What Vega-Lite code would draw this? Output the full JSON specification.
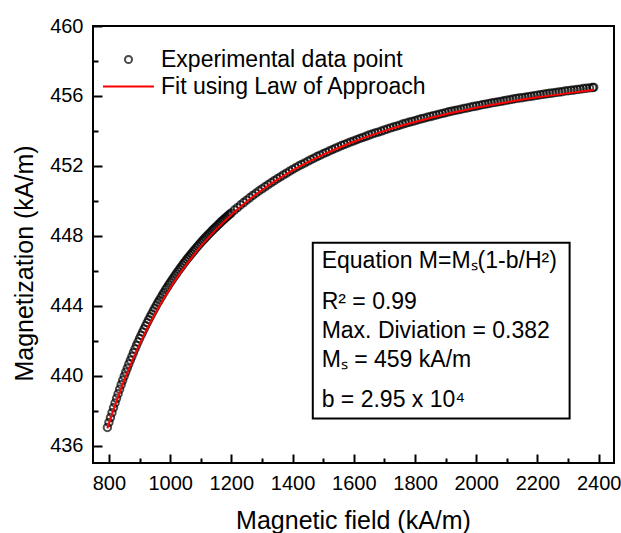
{
"$schema": "https://vega.github.io/schema/vega-lite/v6.json",
"width": 521, "height": 437,
"autosize": {"type": "none"},
"padding": {"left": 93, "top": 26, "right": 7, "bottom": 70},
"background": "white",
"config": {"font": "Liberation Sans", "view": {"stroke": "black", "strokeWidth": 2},
  "axis": {"grid": false, "domain": false, "tickColor": "black", "tickWidth": 2, "labelColor": "black", "labelFontSize": 20, "titleFontSize": 25, "titleFontWeight": "normal", "titleColor": "black", "labelFlush": false, "labelOverlap": false},
  "legend": {"labelFont": "Liberation Sans", "labelFontSize": 23, "labelColor": "black", "padding": 0, "offset": 0, "labelLimit": 400}},
"datasets": {
"exp": [
{"H":795,"M":437.03},{"H":800,"M":437.32},{"H":805,"M":437.60},{"H":810,"M":437.88},{"H":815,"M":438.16},{"H":820,"M":438.43},{"H":825,"M":438.70},{"H":830,"M":438.96},{"H":835,"M":439.22},{"H":840,"M":439.48},{"H":845,"M":439.73},{"H":850,"M":439.97},{"H":855,"M":440.20},{"H":860,"M":440.43},{"H":865,"M":440.66},{"H":870,"M":440.88},{"H":875,"M":441.09},{"H":880,"M":441.31},{"H":885,"M":441.52},{"H":890,"M":441.73},{"H":895,"M":441.92},{"H":900,"M":442.12},{"H":905,"M":442.31},{"H":910,"M":442.49},{"H":915,"M":442.67},{"H":920,"M":442.85},{"H":925,"M":443.03},{"H":930,"M":443.20},{"H":935,"M":443.37},{"H":940,"M":443.53},{"H":945,"M":443.70},{"H":950,"M":443.86},{"H":955,"M":444.02},{"H":960,"M":444.18},{"H":965,"M":444.32},{"H":970,"M":444.47},{"H":975,"M":444.62},{"H":980,"M":444.76},{"H":985,"M":444.91},{"H":990,"M":445.04},{"H":995,"M":445.18},{"H":1000,"M":445.31},{"H":1005,"M":445.44},{"H":1010,"M":445.57},{"H":1015,"M":445.70},{"H":1020,"M":445.82},{"H":1025,"M":445.95},{"H":1030,"M":446.07},{"H":1035,"M":446.19},{"H":1040,"M":446.31},{"H":1045,"M":446.43},{"H":1050,"M":446.54},{"H":1055,"M":446.66},{"H":1060,"M":446.76},{"H":1065,"M":446.88},{"H":1070,"M":446.98},{"H":1075,"M":447.09},{"H":1080,"M":447.19},{"H":1085,"M":447.30},{"H":1090,"M":447.40},{"H":1095,"M":447.50},{"H":1100,"M":447.60},{"H":1105,"M":447.70},{"H":1110,"M":447.79},{"H":1115,"M":447.89},{"H":1120,"M":447.98},{"H":1125,"M":448.08},{"H":1130,"M":448.16},{"H":1135,"M":448.26},{"H":1140,"M":448.34},{"H":1145,"M":448.43},{"H":1150,"M":448.51},{"H":1155,"M":448.60},{"H":1160,"M":448.68},{"H":1165,"M":448.77},{"H":1170,"M":448.85},{"H":1175,"M":448.93},{"H":1180,"M":449.01},{"H":1185,"M":449.09},{"H":1190,"M":449.16},{"H":1195,"M":449.24},{"H":1200,"M":449.31},
{"H":1210,"M":449.47},{"H":1220,"M":449.61},{"H":1230,"M":449.76},{"H":1240,"M":449.90},{"H":1250,"M":450.04},{"H":1260,"M":450.17},{"H":1270,"M":450.31},{"H":1280,"M":450.43},{"H":1290,"M":450.56},{"H":1300,"M":450.68},{"H":1310,"M":450.80},{"H":1320,"M":450.92},{"H":1330,"M":451.03},{"H":1340,"M":451.15},{"H":1350,"M":451.26},{"H":1360,"M":451.37},{"H":1370,"M":451.48},{"H":1380,"M":451.58},{"H":1390,"M":451.69},{"H":1400,"M":451.79},{"H":1410,"M":451.89},{"H":1420,"M":451.99},{"H":1430,"M":452.08},{"H":1440,"M":452.17},{"H":1450,"M":452.26},{"H":1460,"M":452.35},{"H":1470,"M":452.44},{"H":1480,"M":452.53},{"H":1490,"M":452.61},{"H":1500,"M":452.69},{"H":1510,"M":452.77},{"H":1520,"M":452.85},{"H":1530,"M":452.93},{"H":1540,"M":453.01},{"H":1550,"M":453.08},{"H":1560,"M":453.16},{"H":1570,"M":453.23},{"H":1580,"M":453.30},{"H":1590,"M":453.37},{"H":1600,"M":453.43},{"H":1610,"M":453.50},{"H":1620,"M":453.57},{"H":1630,"M":453.63},{"H":1640,"M":453.69},{"H":1650,"M":453.76},{"H":1660,"M":453.82},{"H":1670,"M":453.88},{"H":1680,"M":453.93},{"H":1690,"M":453.99},{"H":1700,"M":454.05},{"H":1710,"M":454.11},{"H":1720,"M":454.17},{"H":1730,"M":454.22},{"H":1740,"M":454.27},{"H":1750,"M":454.33},{"H":1760,"M":454.39},{"H":1770,"M":454.44},{"H":1780,"M":454.49},{"H":1790,"M":454.54},{"H":1800,"M":454.58},{"H":1810,"M":454.64},{"H":1820,"M":454.69},{"H":1830,"M":454.73},{"H":1840,"M":454.78},{"H":1850,"M":454.82},{"H":1860,"M":454.87},{"H":1870,"M":454.91},{"H":1880,"M":454.96},{"H":1890,"M":455.00},{"H":1900,"M":455.04},{"H":1910,"M":455.09},{"H":1920,"M":455.13},{"H":1930,"M":455.17},{"H":1940,"M":455.20},{"H":1950,"M":455.24},{"H":1960,"M":455.28},{"H":1970,"M":455.31},{"H":1980,"M":455.35},{"H":1990,"M":455.39},{"H":2000,"M":455.42},{"H":2010,"M":455.46},{"H":2020,"M":455.50},{"H":2030,"M":455.53},{"H":2040,"M":455.56},{"H":2050,"M":455.60},{"H":2060,"M":455.63},{"H":2070,"M":455.66},{"H":2080,"M":455.69},{"H":2090,"M":455.72},{"H":2100,"M":455.76},{"H":2110,"M":455.79},{"H":2120,"M":455.82},{"H":2130,"M":455.85},{"H":2140,"M":455.88},{"H":2150,"M":455.90},{"H":2160,"M":455.93},{"H":2170,"M":455.96},{"H":2180,"M":455.98},{"H":2190,"M":456.01},{"H":2200,"M":456.04},{"H":2210,"M":456.07},{"H":2220,"M":456.10},{"H":2230,"M":456.12},{"H":2240,"M":456.15},{"H":2250,"M":456.17},{"H":2260,"M":456.20},{"H":2270,"M":456.22},{"H":2280,"M":456.24},{"H":2290,"M":456.28},{"H":2300,"M":456.30},{"H":2310,"M":456.32},{"H":2320,"M":456.34},{"H":2330,"M":456.37},{"H":2340,"M":456.39},{"H":2350,"M":456.42},{"H":2360,"M":456.44},{"H":2370,"M":456.46},{"H":2380,"M":456.48},{"H":2384,"M":456.49}
],
"fit": [
{"H":795,"M":436.98},{"H":810,"M":437.78},{"H":825,"M":438.54},{"H":840,"M":439.26},{"H":855,"M":439.93},{"H":870,"M":440.58},{"H":885,"M":441.19},{"H":900,"M":441.77},{"H":920,"M":442.50},{"H":940,"M":443.18},{"H":960,"M":443.83},{"H":980,"M":444.43},{"H":1000,"M":445.00},{"H":1025,"M":445.66},{"H":1050,"M":446.28},{"H":1075,"M":446.85},{"H":1100,"M":447.39},{"H":1150,"M":448.35},{"H":1200,"M":449.20},{"H":1250,"M":449.95},{"H":1300,"M":450.62},{"H":1350,"M":451.21},{"H":1400,"M":451.74},{"H":1450,"M":452.21},{"H":1500,"M":452.64},{"H":1600,"M":453.38},{"H":1700,"M":454.00},{"H":1800,"M":454.51},{"H":1900,"M":454.95},{"H":2000,"M":455.32},{"H":2100,"M":455.64},{"H":2200,"M":455.92},{"H":2300,"M":456.16},{"H":2384,"M":456.34}
],
"box": [{"H":1466,"H2":2305,"M":447.6,"M2":437.54}],
"notes": [
{"H":1495,"M":446.17,"t":"Equation M=Mₛ(1-b/H²)"},
{"H":1495,"M":443.83,"t":"R² = 0.99"},
{"H":1495,"M":442.17,"t":"Max. Diviation = 0.382"},
{"H":1495,"M":440.51,"t":"Mₛ = 459 kA/m"},
{"H":1495,"M":438.23,"t":"b = 2.95 x 10⁴"}
]
},
"encoding": {
  "x": {"field": "H", "type": "quantitative", "scale": {"domain": [748, 2450], "nice": false, "zero": false},
    "axis": {"title": "Magnetic field (kA/m)", "values": [800,900,1000,1100,1200,1300,1400,1500,1600,1700,1800,1900,2000,2100,2200,2300,2400], "format": "d",
      "labelExpr": "datum.value % 200 === 0 ? datum.label : ''",
      "tickSize": {"condition": {"test": "datum.value % 200 === 0", "value": -9}, "value": -5},
      "labelPadding": 19, "titleX": 260, "titleY": 57, "titleBaseline": "middle", "titleAnchor": "middle"}},
  "y": {"field": "M", "type": "quantitative", "scale": {"domain": [435, 460], "nice": false, "zero": false},
    "axis": {"title": "Magnetization (kA/m)", "values": [436,438,440,442,444,446,448,450,452,454,456,458,460],
      "labelExpr": "(datum.value - 436) % 4 === 0 ? datum.label : ''",
      "tickSize": {"condition": {"test": "(datum.value - 436) % 4 === 0", "value": -9}, "value": -5},
      "labelPadding": 19, "titleX": -69, "titleY": 237, "titleBaseline": "middle", "titleAlign": "center", "titleAngle": -90}}
},
"layer": [
  {"data": {"name": "box"}, "mark": {"type": "rect", "fill": "white", "stroke": "black", "strokeWidth": 2},
   "encoding": {"x2": {"field": "H2"}, "y2": {"field": "M2"}}},
  {"data": {"name": "notes"}, "mark": {"type": "text", "align": "left", "baseline": "alphabetic", "fontSize": 23, "color": "black"},
   "encoding": {"text": {"field": "t"}}},
  {"data": {"name": "exp"}, "mark": {"type": "point", "filled": false, "color": "black", "strokeWidth": 2, "size": 55},
   "encoding": {"shape": {"datum": "Experimental data point", "scale": {"range": ["circle"]},
     "legend": {"title": null, "orient": "none", "legendX": 24, "legendY": 22, "symbolSize": 50, "symbolStrokeWidth": 2, "symbolStrokeColor": "black", "labelOffset": 21}}}},
  {"data": {"name": "fit"}, "mark": {"type": "line", "strokeWidth": 2, "interpolate": "monotone"},
   "encoding": {"color": {"datum": "Fit using Law of Approach", "scale": {"range": ["red"]},
     "legend": {"title": null, "orient": "none", "legendX": 9, "legendY": 34, "symbolSize": 2600, "symbolStrokeWidth": 2, "labelOffset": 6}}}}
]
}
